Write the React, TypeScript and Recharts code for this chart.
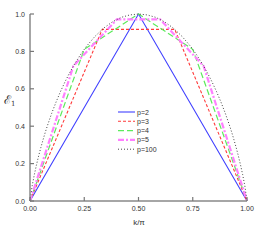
import React from 'react';
import { LineChart, Line, XAxis, YAxis, Legend } from 'recharts';

// k/pi positions and E1 values for each p
const kP2 = [0, 0.5, 1];
const eP2 = [0, 1, 0];

const kP3 = [0, 0.333, 0.667, 1];
const eP3 = [0, 0.918, 0.918, 0];

const kP4 = [0, 0.25, 0.5, 0.75, 1];
const eP4 = [0, 0.811, 1, 0.811, 0];

const kP5 = [0, 0.2, 0.4, 0.6, 0.8, 1];
const eP5 = [0, 0.722, 0.971, 0.971, 0.722, 0];

const kP100 = [0, 0.01, 0.02, 0.03, 0.04, 0.05, 0.06, 0.07, 0.08, 0.1, 0.12, 0.14, 0.16, 0.18, 0.2, 0.23, 0.26, 0.3, 0.34, 0.38, 0.42, 0.46, 0.5,
    0.54, 0.58, 0.62, 0.66, 0.7, 0.74, 0.77, 0.8, 0.82, 0.84, 0.86, 0.88, 0.9, 0.92, 0.93, 0.94, 0.95, 0.96, 0.97, 0.98, 0.99, 1];
const eP100 = [0, 0.081, 0.141, 0.194, 0.242, 0.286, 0.327, 0.366, 0.402, 0.469, 0.529, 0.584, 0.634, 0.68, 0.722, 0.778, 0.827, 0.881, 0.925, 0.958, 0.982, 0.995, 1,
    0.995, 0.982, 0.958, 0.925, 0.881, 0.827, 0.778, 0.722, 0.68, 0.634, 0.584, 0.529, 0.469, 0.402, 0.366, 0.327, 0.286, 0.242, 0.194, 0.141, 0.081, 0];

const xTicks = [0, 0.25, 0.5, 0.75, 1];
const yTicks = [0, 0.2, 0.4, 0.6, 0.8, 1];

const zip = (ks: number[], es: number[]) => ks.map((k, i) => ({ k, e: es[i] }));

const series = [
    { name: 'p=2', data: zip(kP2, eP2), color: '#4040ff', width: 1.1, dash: undefined },
    { name: 'p=3', data: zip(kP3, eP3), color: '#ff3a3a', width: 1.1, dash: '3 2' },
    { name: 'p=4', data: zip(kP4, eP4), color: '#5ceb5c', width: 1.2, dash: '6 3' },
    { name: 'p=5', data: zip(kP5, eP5), color: '#ff80ff', width: 2.2, dash: '6 2 2 2' },
    { name: 'p=100', data: zip(kP100, eP100), color: '#444', width: 1, dash: '1 2' },
];

const font = '"Liberation Sans", Arial, sans-serif';

const YTick = ({ x, y, payload }: any) => (
    <g>
        <line x1={x + 5} x2={x + 9} y1={y} y2={y} stroke="#777" strokeWidth={1.2} />
        <text x={x} y={y} dy={2.5} textAnchor="end" fontSize={7} fill="#333" fontFamily={font}>
            {Number(payload.value).toFixed(1)}
        </text>
    </g>
);

const XTick = ({ x, y, payload }: any) => (
    <g>
        <line x1={x} x2={x} y1={y - 3} y2={y - 7} stroke="#777" strokeWidth={1.2} />
        <text x={x} y={y} dy={6.5} textAnchor="middle" fontSize={7} fill="#333" fontFamily={font}>
            {Number(payload.value).toFixed(2)}
        </text>
    </g>
);

const LegendBox = () => (
    <svg width={50} height={48}>
        {series.map((s, i) => (
            <g key={s.name}>
                <line x1={0} x2={17} y1={3 + i * 9.3} y2={3 + i * 9.3} stroke={s.color} strokeWidth={s.width} strokeDasharray={s.dash} />
                <text x={19} y={3 + i * 9.3} dy={2.5} fontSize={7} fill="#333" fontFamily={font}>{s.name}</text>
            </g>
        ))}
    </svg>
);

export default function App() {
    return (
        <div style={{ position: 'absolute', left: 0, top: 0, width: 264, height: 240, background: '#fff' }}>
            <LineChart width={264} height={240} margin={{ top: 14, right: 17, left: 0, bottom: 0 }}>
                <XAxis
                    dataKey="k"
                    type="number"
                    domain={[0, 1]}
                    ticks={xTicks}
                    height={39}
                    tickSize={0}
                    tickMargin={3}
                    tick={<XTick />}
                    axisLine={{ stroke: '#888', strokeWidth: 1.5 }}
                    allowDuplicatedCategory={false}
                    label={{
                        content: () => (
                            <text x={139} y={224.5} textAnchor="middle" fontSize={8} fill="#333" fontFamily={font}>k/π</text>
                        ),
                    }}
                />
                <YAxis
                    dataKey="e"
                    type="number"
                    domain={[0, 1]}
                    ticks={yTicks}
                    width={30}
                    tickSize={0}
                    tickMargin={5}
                    tick={<YTick />}
                    axisLine={{ stroke: '#888', strokeWidth: 1.5 }}
                    label={{
                        content: () => (
                            <text x={4} y={104} fontSize={12} fill="#333" fontFamily='"DejaVu Serif", serif'>
                                ℰ<tspan fontSize={7} dy={2}>1</tspan>
                            </text>
                        ),
                    }}
                />
                {series.map((s) => (
                    <Line
                        key={s.name}
                        name={s.name}
                        data={s.data}
                        dataKey="e"
                        type="linear"
                        stroke={s.color}
                        strokeWidth={s.width}
                        strokeDasharray={s.dash}
                        dot={false}
                        activeDot={false}
                        isAnimationActive={false}
                    />
                ))}
                <Legend
                    layout="vertical"
                    align="center"
                    verticalAlign="middle"
                    content={<LegendBox />}
                    wrapperStyle={{ position: 'absolute', left: 118, top: 109, width: 50, height: 48 }}
                />
            </LineChart>
        </div>
    );
}
